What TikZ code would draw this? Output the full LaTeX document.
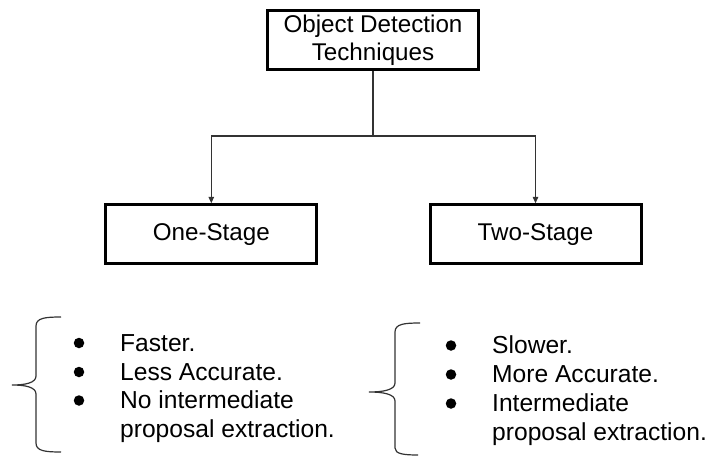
\documentclass[tikz,border=0pt]{standalone}
\usepackage{fontspec}
\setmainfont{Liberation Sans}
\usetikzlibrary{arrows.meta}
\begin{document}
\begin{tikzpicture}[x=1pt,y=-1pt,
  box/.style={draw=black, line width=3pt, minimum width=211pt, minimum height=59pt, inner sep=0pt, align=center, font=\fontsize{24.2}{28}\selectfont},
  conn/.style={draw=black!80, line width=1.2pt, -{Triangle[length=6.5pt,width=5.5pt]}},
  item/.style={anchor=base west, inner sep=0pt, font=\fontsize{24.6}{28}\selectfont},
  dot/.style={circle, fill=black, inner sep=0pt, minimum size=10.5pt},
  brace/.style={draw=black!80, line width=1.2pt}]
\useasboundingbox (0,0) rectangle (708,457);
\node[box] (top) at (373,39.8) {Object Detection\\Techniques};
\node[box] (one) at (211.3,234.3) {One-Stage};
\node[box] (two) at (535.5,234.3) {Two-Stage};
\coordinate (split) at (top.south |- 0,136);
\draw[draw=black!80, line width=1.2pt] (top.south) -- (split);
\draw[conn] (split) -| (one.north);
\draw[conn] (split) -| (two.north);
% left list
\node[dot] (l1) at (79,343) {};
\node[dot] (l2) at (79,372) {};
\node[dot] (l3) at (79,400.5) {};
\node[item] (lt1) at (120,351) {Faster.};
\node[item] (lt2) at (120,380) {Less Accurate.};
\node[item] (lt3) at (120,408.5) {No intermediate};
\node[item] (lt4) at (120,437) {proposal extraction.};
% right list
\node[dot] (r1) at (451,345.5) {};
\node[dot] (r2) at (451,374.5) {};
\node[dot] (r3) at (451,403.5) {};
\node[item] (rt1) at (492,353.5) {Slower.};
\node[item] (rt2) at (492,382.5) {More Accurate.};
\node[item] (rt3) at (492,411.5) {Intermediate};
\node[item] (rt4) at (492,440) {proposal extraction.};
% braces
\draw[brace] (61,317) .. controls (45,317) and (36,318) .. (36,326) -- (36,376)
  .. controls (36,383) and (25,385) .. (12,385)
  .. controls (25,385) and (36,387) .. (36,394) -- (36,443)
  .. controls (36,451) and (45,452) .. (61,452);
\draw[brace] (420,323) .. controls (404,323) and (395,324) .. (395,332) -- (395,383)
  .. controls (395,390) and (383,392) .. (369,392)
  .. controls (383,392) and (395,394) .. (395,401) -- (395,448)
  .. controls (395,454) and (404,455) .. (418,455);
\end{tikzpicture}
\end{document}
